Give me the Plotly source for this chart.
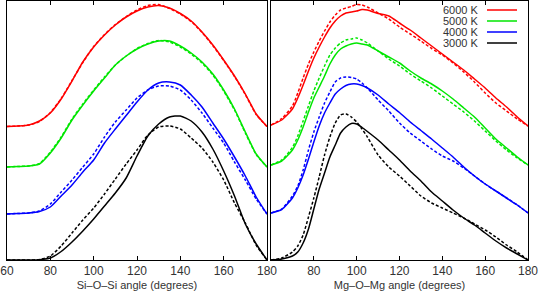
import plotly.graph_objects as go

# ---------------- data (arbitrary units) ----------------
TEMPS = ["6000 K", "5000 K", "4000 K", "3000 K"]
COLORS = ["#ff0000", "#00e600", "#0000ff", "#000000"]
X_TICKS = [60, 80, 100, 120, 140, 160, 180]

SI_ANGLES = [60, 65, 70, 75, 80, 85, 90, 95, 100, 105, 110, 115, 120, 125, 130,
             135, 140, 145, 150, 155, 160, 165, 170, 175, 180]
SI_OFFSETS = [133.5, 93, 46, 0]
SI_6000_SOLID = [0, 0.5, 1.5, 5.5, 13.5, 27.5, 45.5, 64.5, 79.5, 91.5, 101.5, 109.5, 115.5,
                 119.5, 121, 118.5, 113, 105.5, 94.5, 81.5, 66.5, 50.5, 32.5, 12.5, 0]
SI_6000_DASH = [0, 0.5, 1.5, 5, 14, 28, 46, 64, 80, 92, 102, 110, 116.5,
                121, 122, 118, 112.5, 105, 94, 81, 66, 50, 32, 12, 0]
SI_5000_SOLID = [0, 0.5, 1, 3, 14, 29, 47, 62, 76, 89, 102, 111, 118,
                 123, 126, 126, 121, 114, 105, 93, 77, 58, 35, 13, 0]
SI_5000_DASH = [0, 0.5, 1, 3.5, 15, 30, 48, 63, 77, 90, 102, 111, 118.5,
                123.5, 126.5, 125, 120, 113, 104, 92, 76, 57, 34, 12.5, 0]
SI_4000_SOLID = [0, 0.5, 1, 2.5, 7, 18, 29, 42, 54, 71, 85, 98.5, 112,
                 124, 131, 132, 129, 119, 107, 91, 75, 57, 38, 17, 0]
SI_4000_DASH = [0, 0.5, 1, 3, 10, 22, 34, 47, 60, 77, 92, 104, 116,
                124, 128, 128, 124, 114, 101, 86, 71, 52, 34, 15, 0]
SI_3000_SOLID = [0, 0, 0, 0.3, 2, 8.5, 18, 29, 41, 54, 67, 82, 104,
                 124, 136, 143, 144, 139, 128, 111, 89, 64, 36, 16, 0]
SI_3000_DASH = [0, 0, 0, 0.5, 4, 14, 27, 40, 52, 66, 81, 96, 110,
                125, 133, 134, 131, 122, 112, 98, 80, 57, 37, 15, 0]

MG_ANGLES = [60, 65, 70, 72.5, 75, 77.5, 80, 82.5, 85, 87.5, 90, 92.5, 95, 97.5, 100,
             102.5, 105, 110, 115, 120, 125, 130, 135, 140, 145, 150, 155, 160, 165,
             170, 175, 180]
MG_OFFSETS = [135, 95, 47, 0]
MG_6000_SOLID = [0, 5, 16, 27, 40, 54, 67, 78, 88, 97, 104, 109, 112, 113, 114,
                 115.5, 115, 111.5, 109, 102, 95, 87, 79, 71, 63, 55, 46, 37, 27,
                 18, 8, -1]
MG_6000_DASH = [0, 6.5, 19, 32, 47, 61, 73, 84, 94, 103, 110, 115, 117, 118.5, 120.5,
                120, 118, 112, 106, 98, 91, 84, 76.5, 70, 62, 53, 43, 32, 22,
                14, 6, -1]
MG_5000_SOLID = [0, 4, 15, 25, 38, 53, 67, 78, 89, 101, 110, 116, 119, 121, 122,
                 121, 120, 114, 108, 102, 94, 87, 81, 74, 66, 57, 48, 37, 26,
                 17, 8, 0]
MG_5000_DASH = [0, 5, 17.5, 29, 44, 59, 74, 87, 99, 110, 117, 122, 125, 126, 127,
                125, 122, 114, 106, 99, 91, 84, 77, 69, 61, 53, 44, 34, 24,
                15, 7, 0]
MG_4000_SOLID = [0, 3.5, 15, 25, 38, 54, 71, 87, 100, 110, 119, 124, 127.5, 129, 129,
                 127.5, 125, 118, 109, 100.5, 91, 82.5, 74, 65, 56, 46, 37, 29, 22,
                 15, 8, 0]
MG_4000_DASH = [0, 4, 17, 27, 43, 63, 81, 96, 110, 121, 131, 135, 136, 135.5, 134,
                130, 125, 113, 102, 90, 80, 72, 64, 57, 52, 45, 37, 29, 22,
                15, 8, 0]
MG_3000_SOLID = [0, 1, 4, 8, 17, 31, 51, 71, 87, 103, 115, 127, 133, 136.5, 136,
                 132.5, 128.5, 120, 110, 100, 89, 79, 68, 59, 50, 42, 35, 27, 19,
                 12, 6, 0]
MG_3000_DASH = [0, 2, 8, 14, 25, 43, 62, 83, 105, 123, 137, 145, 146, 143, 138,
                131, 123, 105, 93, 84, 74, 64, 57, 52, 47, 42, 36, 30, 23,
                15, 8, 0]

SI_SOLID = [SI_6000_SOLID, SI_5000_SOLID, SI_4000_SOLID, SI_3000_SOLID]
SI_DASH = [SI_6000_DASH, SI_5000_DASH, SI_4000_DASH, SI_3000_DASH]
MG_SOLID = [MG_6000_SOLID, MG_5000_SOLID, MG_4000_SOLID, MG_3000_SOLID]
MG_DASH = [MG_6000_DASH, MG_5000_DASH, MG_4000_DASH, MG_3000_DASH]

# ---------------- figure ----------------
W, H = 540, 296
fig = go.Figure()

def add_panel(angles, solids, dashes, offsets, xa, ya):
    for i in range(len(TEMPS)):
        for vals, dash in ((dashes[i], "3px,2px"), (solids[i], "solid")):
            fig.add_trace(go.Scatter(
                x=angles, y=[v + offsets[i] for v in vals], mode="lines",
                line=dict(color=COLORS[i], width=1.5, dash=dash, shape="spline", smoothing=0.6),
                xaxis=xa, yaxis=ya, showlegend=False, hoverinfo="skip"))

add_panel(SI_ANGLES, SI_SOLID, SI_DASH, SI_OFFSETS, "x", "y")
add_panel(MG_ANGLES, MG_SOLID, MG_DASH, MG_OFFSETS, "x2", "y2")

ydom = [1 - 260 / H, 1 - 1 / H]
font = "Liberation Sans, Arial, sans-serif"
xcommon = dict(range=[60, 180], tickvals=X_TICKS, ticks="inside", ticklen=4, tickcolor="#000",
               showline=True, linecolor="#000", linewidth=1, mirror="ticks", showgrid=False,
               zeroline=False, tickfont=dict(family=font, size=12, color="#333"),
               automargin=False)
ycommon = dict(range=[0, 259], showticklabels=False, ticks="", showline=True, linecolor="#000",
               linewidth=1, mirror=True, showgrid=False, zeroline=False, automargin=False)

fig.update_layout(
    width=W, height=H, margin=dict(l=0, r=0, t=0, b=0),
    paper_bgcolor="white", plot_bgcolor="white",
    xaxis=dict(domain=[7 / W, 267 / W], anchor="y", **xcommon,
               title=dict(text="Si\u2013O\u2013Si angle (degrees)", standoff=3,
                          font=dict(family=font, size=11, color="#333"))),
    yaxis=dict(domain=ydom, anchor="x", **ycommon),
    xaxis2=dict(domain=[271 / W, 528 / W], anchor="y2", **xcommon,
                title=dict(text="Mg\u2013O\u2013Mg angle (degrees)", standoff=3,
                           font=dict(family=font, size=11, color="#333"))),
    yaxis2=dict(domain=ydom, anchor="x2", **ycommon),
)
fig.update_layout(xaxis2=dict(ticktext=[""] + [str(t) for t in X_TICKS[1:]]))

# legend: label on the left, line sample on the right
for i, (t, c) in enumerate(zip(TEMPS, COLORS)):
    yc = 10 + i * 11
    fig.add_annotation(x=481 / W, y=1 - yc / H, xref="paper", yref="paper", text=t,
                       showarrow=False, xanchor="right", yanchor="middle",
                       font=dict(family=font, size=11, color="#333"))
    fig.add_shape(type="line", xref="paper", yref="paper", x0=487 / W, x1=517 / W,
                  y0=1 - yc / H, y1=1 - yc / H, line=dict(color=c, width=1.5))

fig.write_html("out.html", config={"displayModeBar": False},
               post_script="document.body.style.margin='0';")
